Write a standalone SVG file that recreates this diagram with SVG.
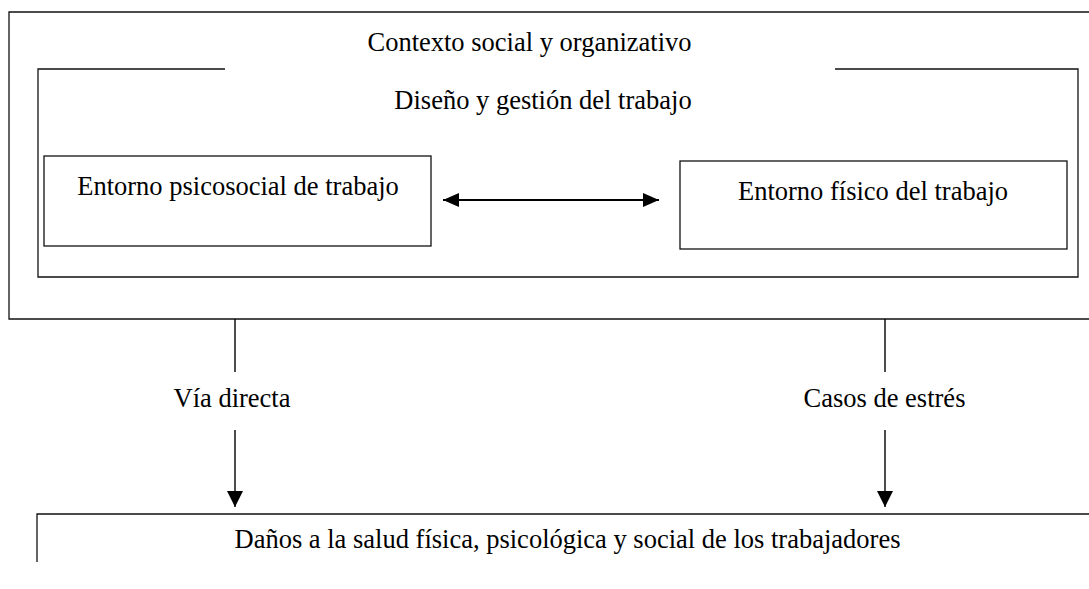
<svg xmlns="http://www.w3.org/2000/svg" width="1089" height="589" viewBox="0 0 1089 589">
<defs>
<style>
.t{font-family:"Liberation Serif","Times New Roman",serif;font-size:26.5px;fill:#000;text-anchor:middle}
.b{fill:none;stroke:#111;stroke-width:1.3}
.c{fill:none;stroke:#000;stroke-width:1.4}
</style>
<marker id="ah" viewBox="0 0 16 16" refX="16" refY="8" markerWidth="16" markerHeight="16" markerUnits="userSpaceOnUse" orient="auto-start-reverse">
<path d="M0,0 L16,8 L0,16 Z" fill="#000"/>
</marker>
<marker id="ah2" viewBox="0 0 16 14" refX="16" refY="7" markerWidth="16" markerHeight="14" markerUnits="userSpaceOnUse" orient="auto-start-reverse">
<path d="M0,0 L16,7 L0,14 Z" fill="#000"/>
</marker>
</defs>
<rect width="1089" height="589" fill="#fff"/>
<g id="contexto">
<path class="b" d="M1095 12 H9 V319 H1095"/>
<text class="t" x="529.5" y="51">Contexto social y organizativo</text>
</g>
<g id="diseno">
<path class="b" d="M225 69 H38 V277 H1078 V69 H835"/>
<text class="t" x="543" y="109">Diseño y gestión del trabajo</text>
</g>
<g id="psicosocial">
<rect class="b" x="44" y="156" width="387" height="90"/>
<text class="t" x="238" y="195">Entorno psicosocial de trabajo</text>
</g>
<g id="fisico">
<rect class="b" x="680" y="161" width="387" height="88"/>
<text class="t" x="873" y="200">Entorno físico del trabajo</text>
</g>
<g id="danos">
<path class="b" d="M37 562 V514 H1095"/>
<text class="t" x="567.5" y="548">Daños a la salud física, psicológica y social de los trabajadores</text>
</g>
<g id="connectors">
<line x1="443" y1="200" x2="659" y2="200" stroke="#000" stroke-width="2" marker-start="url(#ah2)" marker-end="url(#ah2)"/>
<line class="c" x1="235" y1="319" x2="235" y2="372"/>
<line class="c" x1="235" y1="430" x2="235" y2="507" marker-end="url(#ah)"/>
<line class="c" x1="885" y1="319" x2="885" y2="372"/>
<line class="c" x1="885" y1="430" x2="885" y2="507" marker-end="url(#ah)"/>
<text class="t" x="232" y="407">Vía directa</text>
<text class="t" x="884.5" y="407">Casos de estrés</text>
</g>
</svg>
